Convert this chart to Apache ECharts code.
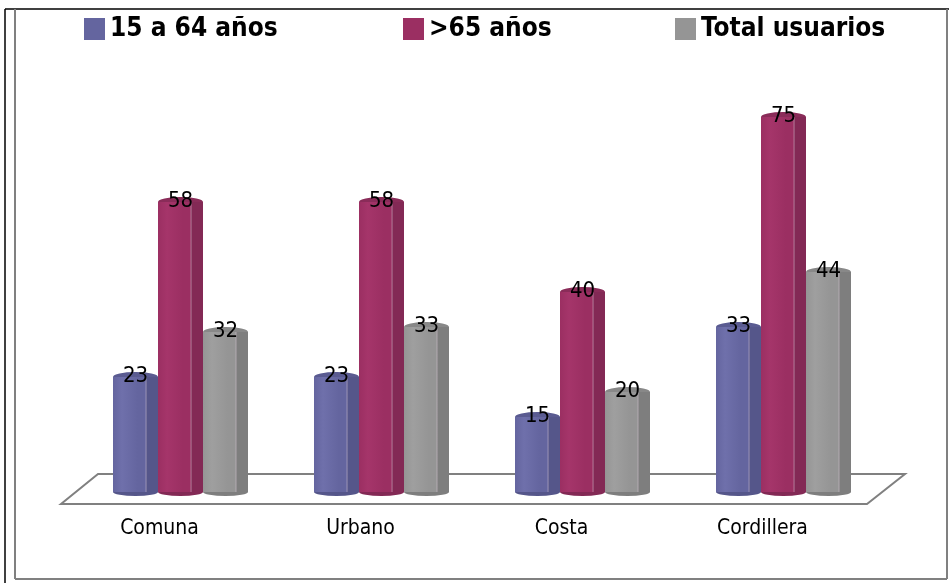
<!DOCTYPE html>
<html>
<head>
<meta charset="utf-8">
<script src="https://cdn.jsdelivr.net/npm/echarts@6/dist/echarts.min.js"></script>
<style>
  html, body { margin: 0; padding: 0; background: #fff; }
  #chart { width: 949px; height: 583px; }
</style>
</head>
<body>
<div id="chart"></div>
<script>
var categories = ['Comuna', 'Urbano', 'Costa', 'Cordillera'];
var seriesNames = ['15 a 64 años', '>65 años', 'Total usuarios'];
var joven = [23, 23, 15, 33];
var mayor = [58, 58, 40, 75];
var total = [32, 33, 20, 44];

var baseColors = ['#64659f', '#9b2f62', '#959595'];
var lightColors = ['#6f70ab', '#a5356a', '#9f9f9f'];
var darkColors = ['#55568a', '#832955', '#7e7e7e'];
var capColors = ['#5a5b91', '#8a2c59', '#888888'];

var font = "'Liberation Sans Narrow', 'DejaVu Sans Condensed', 'Noto Sans', sans-serif";

var myChart = echarts.init(document.getElementById('chart'));

function sideGradient(i) {
  // sombreado horizontal para simular el prisma
  return new echarts.graphic.LinearGradient(0, 0, 1, 0, [
    { offset: 0, color: baseColors[i] },
    { offset: 0.2, color: lightColors[i] },
    { offset: 0.55, color: baseColors[i] },
    { offset: 0.72, color: baseColors[i] },
    { offset: 0.73, color: '#d9c8d6' },
    { offset: 0.75, color: darkColors[i] },
    { offset: 1, color: darkColors[i] }
  ]);
}

var values = [joven, mayor, total];
var series = [];
for (var i = 0; i < 3; i++) {
  series.push({
    name: seriesNames[i],
    type: 'bar',
    barWidth: 45,
    barGap: '0%',
    z: 5,
    itemStyle: { color: sideGradient(i) },
    label: {
      show: true,
      position: 'top',
      distance: -10,
      color: '#000',
      fontSize: 22,
      fontFamily: font
    },
    data: values[i]
  });
}
// tapas de los cilindros
var offsets = ['-100%', '0%', '100%'];
for (var j = 0; j < 3; j++) {
  series.push({
    name: seriesNames[j] + ' tapa',
    type: 'pictorialBar',
    symbol: 'circle',
    symbolSize: [45, 10],
    symbolPosition: 'end',
    symbolOffset: [offsets[j], '-50%'],
    z: 4,
    itemStyle: { color: capColors[j] },
    silent: true,
    data: values[j]
  });
  series.push({
    name: seriesNames[j] + ' base',
    type: 'pictorialBar',
    symbol: 'circle',
    symbolSize: [45, 8],
    symbolPosition: 'start',
    symbolOffset: [offsets[j], '50%'],
    z: 2,
    itemStyle: { color: darkColors[j] },
    silent: true,
    data: values[j]
  });
}

function legendAt(left, idx) {
  return {
    data: [{ name: seriesNames[idx], itemStyle: { color: baseColors[idx] } }],
    left: left,
    top: 11,
    itemWidth: 21,
    itemHeight: 22,
    itemGap: 10,
    icon: 'rect',
    selectedMode: false,
    textStyle: {
      color: '#000',
      fontSize: 26,
      fontWeight: 'bold',
      fontFamily: font
    }
  };
}

myChart.setOption({
  animation: false,
  legend: [legendAt(79, 0), legendAt(398, 1), legendAt(670, 2)],
  graphic: [
    { type: 'line', shape: { x1: 5, y1: 9, x2: 949, y2: 9 }, style: { stroke: '#404040', lineWidth: 2 } },
    { type: 'line', shape: { x1: 5, y1: 9, x2: 5, y2: 583 }, style: { stroke: '#000', lineWidth: 1.5 } },
    { type: 'line', shape: { x1: 15, y1: 9, x2: 15, y2: 579 }, style: { stroke: '#808080', lineWidth: 2 } },
    { type: 'line', shape: { x1: 15, y1: 579, x2: 947, y2: 579 }, style: { stroke: '#808080', lineWidth: 2 } },
    { type: 'line', shape: { x1: 947, y1: 9, x2: 947, y2: 579 }, style: { stroke: '#808080', lineWidth: 2 } },
    {
      type: 'polygon',
      z: 0,
      shape: { points: [[98, 474], [905, 474], [867, 504], [61, 504]] },
      style: { fill: '#fff', stroke: '#808080', lineWidth: 2 }
    }
  ],
  grid: {
    left: 80,
    width: 804,
    top: 92,
    height: 400
  },
  xAxis: {
    type: 'category',
    data: categories,
    axisLine: { show: false },
    axisTick: { show: false },
    axisLabel: {
      margin: 26,
      formatter: function (v) { return '{a|' + v + '}'; },
      rich: {
        a: {
          color: '#000',
          fontSize: 21,
          fontFamily: font,
          padding: [0, 42, 0, 0]
        }
      }
    }
  },
  yAxis: {
    type: 'value',
    min: 0,
    max: 80,
    show: false,
    splitLine: { show: false }
  },
  series: series
});
</script>
</body>
</html>
